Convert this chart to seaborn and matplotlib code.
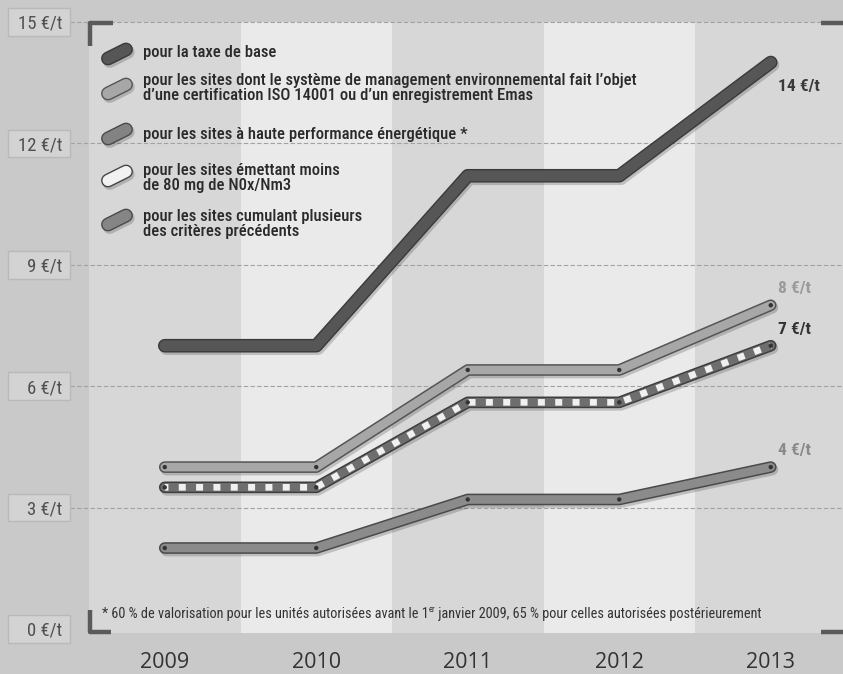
import numpy as np
import pandas as pd
import matplotlib
matplotlib.use("Agg")
import matplotlib.pyplot as plt
import matplotlib.patheffects as pe
from matplotlib.lines import Line2D
from matplotlib.patches import Rectangle
import matplotlib.transforms as mtrans
from matplotlib import font_manager as fm
import seaborn as sns

# ---------------- data ----------------
years = [2009, 2010, 2011, 2012, 2013]
taxe_base = [7, 7, 11.2, 11.2, 14]
iso_emas = [4, 4, 6.4, 6.4, 8]
haute_perf_nox = [3.5, 3.5, 5.6, 5.6, 7]
cumul = [2, 2, 3.2, 3.2, 4]

yticks = [0, 3, 6, 9, 12, 15]
ytick_labels = ["0 €/t", "3 €/t", "6 €/t", "9 €/t", "12 €/t", "15 €/t"]
end_labels = ["14 €/t", "8 €/t", "7 €/t", "4 €/t"]

legend_texts = [
    "pour la taxe de base",
    "pour les sites dont le système de management environnemental fait l’objet\nd’une certification ISO 14001 ou d’un enregistrement Emas",
    "pour les sites à haute performance énergétique *",
    "pour les sites émettant moins\nde 80 mg de N0x/Nm3",
    "pour les sites cumulant plusieurs\ndes critères précédents",
]
footnote_a = "* 60 % de valorisation pour les unités autorisées avant le 1"
footnote_sup = "er"
footnote_b = " janvier 2009, 65 % pour celles autorisées postérieurement"

# ---------------- style ----------------
sns.set_style("white")

# pick a narrow / condensed family if one is installed
entries = fm.fontManager.ttflist
names = {e.name for e in entries}
chosen = None
for p in ["Roboto Condensed", "Liberation Sans Narrow", "Open Sans Condensed", "Noto Sans Condensed"]:
    if p in names:
        chosen = (p, "normal", 1.0)
        break
if chosen is None:
    for base in ["Roboto", "Open Sans", "Noto Sans", "DejaVu Sans", "Liberation Sans"]:
        if any(e.name == base and str(e.stretch) in ("condensed", "semi-condensed", "extra-condensed")
               for e in entries):
            chosen = (base, "condensed", 1.0)
            break
if chosen is None:
    chosen = ("DejaVu Sans", "normal", 0.84)
fam, stretch, scale = chosen

plt.rcParams["font.family"] = [fam, "DejaVu Sans"]
plt.rcParams["font.stretch"] = stretch

W, H = 843, 674
fig = plt.figure(figsize=(W / 100, H / 100), dpi=100)
BG = "#c9c9c9"
fig.patch.set_facecolor(BG)

ax = fig.add_axes([89 / W, 41 / H, 754 / W, 611 / H])
ax.set_facecolor(BG)
ax.set_axisbelow(False)
ax.set_xlim(2008.5, 2008.5 + 754 / 151.5)
ax.set_ylim(-0.1, 15)
for s in ax.spines.values():
    s.set_visible(False)

# alternating vertical bands
band_dark, band_light = "#d7d7d7", "#eaeaea"
for i, yr in enumerate(years):
    ax.axvspan(yr - 0.5, yr + 0.5, color=band_dark if i % 2 == 0 else band_light, zorder=0, lw=0)

# dashed gridlines
for yv in yticks[1:]:
    ax.axhline(yv, xmin=-0.025, xmax=1, color="#a2a2a2", lw=0.8, ls=(0, (4, 2)),
               zorder=1, clip_on=False)

# tick label boxes
btr = mtrans.blended_transform_factory(fig.transFigure, ax.transData)
for yv in yticks:
    ax.add_patch(Rectangle((8 / W, yv - 0.34), 62 / W, 0.68, transform=btr,
                           facecolor="#d3d3d3", edgecolor="#b9b9b9", lw=1.0,
                           clip_on=False, zorder=1.5))

ax.set_yticks(yticks)
ax.set_yticklabels(ytick_labels)
ax.set_xticks(years)
ax.set_xticklabels([str(y) for y in years])
ax.tick_params(axis="y", length=0, pad=19, labelsize=13.5 * scale, labelcolor="#505050")
ax.tick_params(axis="x", length=0, pad=13.5, labelsize=15.5, labelcolor="#333333")
for t in ax.get_xticklabels():
    t.set_fontfamily(["Open Sans", "DejaVu Sans"])
    t.set_fontstretch("normal")


def outline(w, col, shadow=True):
    eff = []
    if shadow:
        eff.append(pe.SimpleLineShadow(offset=(1.2, -1.8), shadow_color="#000000", alpha=0.18, linewidth=w))
    eff += [pe.Stroke(linewidth=w, foreground=col), pe.Normal()]
    return eff


df = pd.DataFrame({"year": years, "base": taxe_base, "iso": iso_emas,
                   "hp": haute_perf_nox, "cumul": cumul})

common = dict(solid_capstyle="round", solid_joinstyle="round", legend=False)

# cumul line
sns.lineplot(data=df, x="year", y="cumul", ax=ax, color="#8b8b8b", linewidth=6.2,
             path_effects=outline(8.4, "#4a4a4a"), zorder=4, **common)
# checkered line (haute performance / NOx)
sns.lineplot(data=df, x="year", y="hp", ax=ax, color="#6e6e6e", linewidth=6.2,
             path_effects=outline(8.4, "#3e3e3e"), zorder=5, **common)
sns.lineplot(data=df, x="year", y="hp", ax=ax, color="#f0f0f0", linewidth=4.8,
             linestyle=(0.5, (1.05, 1.55)), zorder=6, legend=False,
             dash_capstyle="butt")
# ISO line
sns.lineplot(data=df, x="year", y="iso", ax=ax, color="#a7a7a7", linewidth=6.2,
             path_effects=outline(8.4, "#555555"), zorder=7, **common)
# base tax line
sns.lineplot(data=df, x="year", y="base", ax=ax, color="#565656", linewidth=7.8,
             path_effects=outline(9.8, "#3a3a3a"), zorder=8, **common)

# vertex dots
for col in ["cumul", "hp", "iso"]:
    sns.scatterplot(data=df, x="year", y=col, ax=ax, color="#333333", s=10,
                    edgecolor="none", zorder=9, legend=False)
ax.set_xlabel("")
ax.set_ylabel("")

# end labels
ann = [(taxe_base[-1], end_labels[0], "#3a3a3a", -24),
       (iso_emas[-1], end_labels[1], "#9a9a9a", 17),
       (haute_perf_nox[-1], end_labels[2], "#333333", 16),
       (cumul[-1], end_labels[3], "#8a8a8a", 17)]
for yv, txt, c, dy in ann:
    ax.annotate(txt, (years[-1], yv), xytext=(7, dy), textcoords="offset pixels",
                ha="left", va="center", fontsize=12.5 * scale, fontweight="bold", color=c, zorder=10)


def fx(x):
    return x / W


def fy(y):
    return 1 - y / H


# corner marks
cm = dict(color="#5a5a5a", lw=3.2, solid_capstyle="butt", transform=fig.transFigure)
fig.add_artist(Line2D([fx(90), fx(90), fx(113)], [fy(46), fy(23), fy(23)], **cm))
fig.add_artist(Line2D([fx(90), fx(90), fx(111)], [fy(610), fy(632), fy(632)], **cm))
fig.add_artist(Line2D([fx(821), fx(843)], [fy(23), fy(23)], **cm))
fig.add_artist(Line2D([fx(821), fx(843)], [fy(632), fy(632)], **cm))

# legend
pill_styles = [("#565656", "#3a3a3a"), ("#a7a7a7", "#555555"), ("#838383", "#4a4a4a"),
               ("#f2f2f2", "#444444"), ("#858585", "#4a4a4a")]
pill_y = [54, 89, 134, 176, 220]
text_y = [52, 88, 135, 178, 224]
for (fc, ec), py, ty, txt in zip(pill_styles, pill_y, text_y, legend_texts):
    fig.add_artist(Line2D([fx(108), fx(126)], [fy(py + 4.5), fy(py - 4.5)], color=fc, lw=8.0,
                          solid_capstyle="round", transform=fig.transFigure,
                          path_effects=outline(10.0, ec)))
    fig.text(fx(143), fy(ty), txt, ha="left", va="center", fontsize=12.0 * scale,
             fontweight="medium", color="#2a2a2a", linespacing=1.05)

# footnote (superscript "er" as separate small text)
fs_note = 10.25 * scale
renderer = fig.canvas.get_renderer()
ta = fig.text(fx(102), fy(614), footnote_a, ha="left", va="center", fontsize=fs_note, color="#333333")
bb = ta.get_window_extent(renderer)
tsup = fig.text(bb.x1 / W, fy(610), footnote_sup, ha="left", va="center",
                fontsize=fs_note * 0.6, color="#333333")
bb2 = tsup.get_window_extent(renderer)
fig.text(bb2.x1 / W, fy(614), footnote_b, ha="left", va="center", fontsize=fs_note, color="#333333")

fig.savefig("out.png", dpi=100, facecolor=BG)
